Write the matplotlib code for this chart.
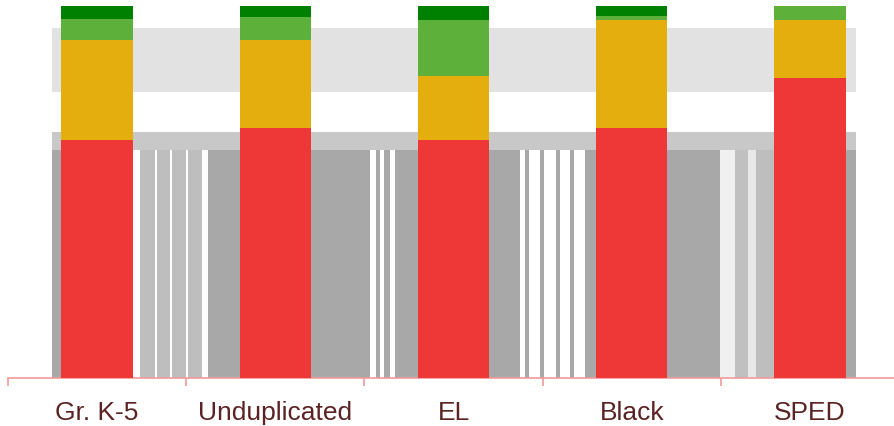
import matplotlib
matplotlib.use("Agg")
import matplotlib.pyplot as plt
from matplotlib.patches import Rectangle
from matplotlib.ticker import FixedLocator

categories = ["Gr. K-5", "Unduplicated", "EL", "Black", "SPED"]
red_vals = [64.0, 67.2, 64.0, 67.2, 80.6]
yellow_vals = [26.9, 23.7, 17.2, 29.0, 15.6]
lgreen_vals = [5.6, 6.2, 15.1, 1.1, 3.8]
dgreen_vals = [3.5, 2.9, 3.7, 2.7, 0.0]

colors = ["#EE3737", "#E5AE0F", "#5DB13A", "#008000"]

W, H = 894, 426
fig = plt.figure(figsize=(W / 100, H / 100), dpi=100)
plt.rcParams['font.family'] = ['Liberation Sans', 'DejaVu Sans']

# faint background artifacts (figure pixel coords)
def frect(x0, y0, x1, y1, c):
    fig.patches.append(Rectangle((x0 / W, 1 - y1 / H), (x1 - x0) / W, (y1 - y0) / H,
                                 transform=fig.transFigure, color=c, zorder=-5, lw=0))

frect(52, 28, 856, 92, "#E2E2E2")
frect(52, 132, 856, 152, "#C8C8C8")
frect(52, 150, 856, 378, "#A8A8A8")
for x0, x1, c in [(133, 140, "#FFFFFF"), (140, 155, "#BEBEBE"), (155, 157, "#FFFFFF"),
                  (157, 170, "#BEBEBE"), (170, 172, "#FFFFFF"), (172, 186, "#BEBEBE"),
                  (186, 188, "#FFFFFF"), (188, 202, "#BEBEBE"), (202, 208, "#FFFFFF"),
                  (370, 376, "#FFFFFF"), (380, 384, "#FFFFFF"), (390, 395, "#FFFFFF"),
                  (520, 525, "#FFFFFF"), (529, 540, "#FFFFFF"), (544, 556, "#FFFFFF"),
                  (560, 570, "#FFFFFF"), (574, 585, "#FFFFFF"), (720, 735, "#F0F0F0"),
                  (735, 748, "#C0C0C0"), (748, 756, "#E8E8E8"), (756, 774, "#BEBEBE")]:
    frect(x0, 150, x1, 378, c)

ax = fig.add_axes([8 / W, 48 / H, 891 / W, 372 / H])
ax.set_zorder(5)
ax.patch.set_alpha(0)

x = list(range(len(categories)))
bottom = [0.0] * len(categories)
for vals, c in zip([red_vals, yellow_vals, lgreen_vals, dgreen_vals], colors):
    ax.bar(x, vals, width=0.4, bottom=bottom, color=c, zorder=3, lw=0)
    bottom = [b + v for b, v in zip(bottom, vals)]

ax.set_xlim(-0.5, 4.5)
ax.set_ylim(0, 100)
for s in ["top", "right", "left"]:
    ax.spines[s].set_visible(False)
ax.spines["bottom"].set_color("#F29A9A")
ax.spines["bottom"].set_linewidth(1.2)
ax.set_yticks([])
ax.set_xticks(x)
ax.set_xticklabels(categories, fontsize=19, color="#5B2323")
ax.tick_params(axis="x", which="major", length=0, pad=16.5)
ax.xaxis.set_minor_locator(FixedLocator([i - 0.5 for i in range(len(categories) + 1)]))
ax.tick_params(axis="x", which="minor", length=6, color="#F29A9A", width=1.2)

fig.savefig("out.png", dpi=100)
